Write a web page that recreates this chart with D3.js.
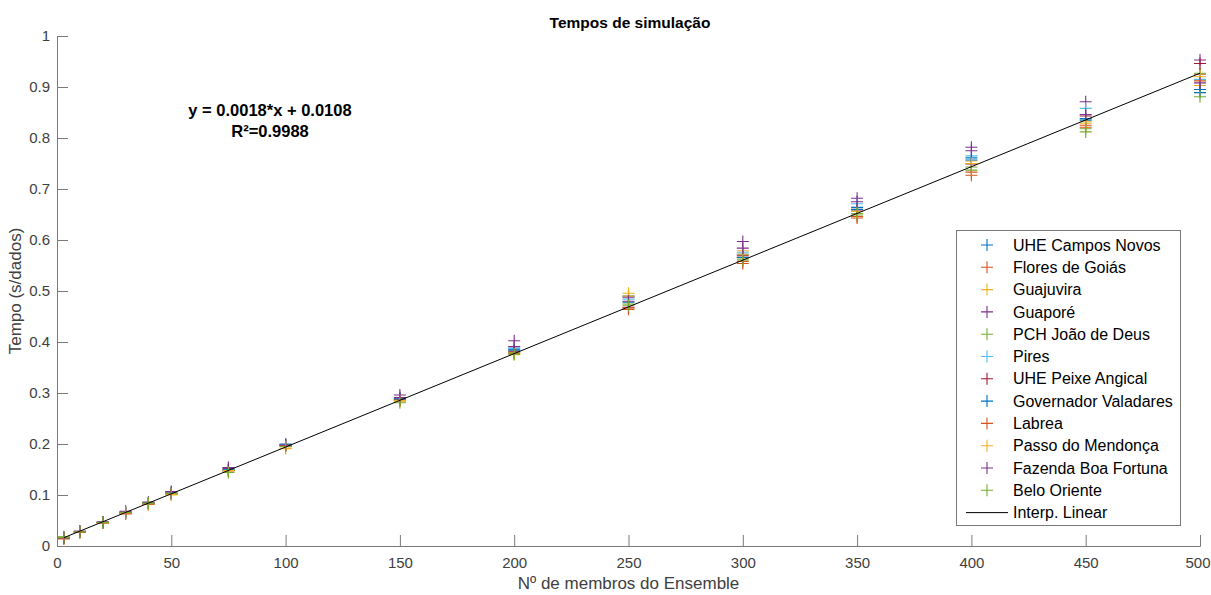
<!DOCTYPE html>
<html>
<head>
<meta charset="utf-8">
<script src="https://cdn.jsdelivr.net/npm/d3@7"></script>
<style>
  html, body { margin: 0; padding: 0; background: #fff; }
  svg { display: block; font-family: "Liberation Sans", Arial, Helvetica, sans-serif; }
</style>
</head>
<body>
<svg id="chart" width="1211" height="595"></svg>
<script>
const xVals = [3, 10, 20, 30, 40, 50, 75, 100, 150, 200, 250, 300, 350, 400, 450, 500];

const seriesNames = [
  "UHE Campos Novos", "Flores de Goiás", "Guajuvira", "Guaporé", "PCH João de Deus", "Pires",
  "UHE Peixe Angical", "Governador Valadares", "Labrea", "Passo do Mendonça", "Fazenda Boa Fortuna", "Belo Oriente"
];

const campos     = [0.016, 0.028, 0.046, 0.065, 0.084, 0.104, 0.150, 0.200, 0.289, 0.386, 0.490, 0.572, 0.664, 0.761, 0.835, 0.889];
const flores     = [0.014, 0.027, 0.045, 0.063, 0.082, 0.101, 0.147, 0.196, 0.285, 0.379, 0.464, 0.554, 0.643, 0.727, 0.821, 0.925];
const guajuvira  = [0.015, 0.027, 0.045, 0.064, 0.082, 0.100, 0.147, 0.191, 0.284, 0.378, 0.4955, 0.579, 0.660, 0.755, 0.829, 0.903];
const guapore    = [0.017, 0.029, 0.047, 0.068, 0.086, 0.107, 0.154, 0.199, 0.296, 0.4025, 0.488, 0.597, 0.682, 0.782, 0.871, 0.953];
const pchJoao    = [0.018, 0.028, 0.047, 0.066, 0.084, 0.104, 0.149, 0.196, 0.287, 0.380, 0.4745, 0.565, 0.649, 0.743, 0.812, 0.927];
const pires      = [0.016, 0.028, 0.046, 0.065, 0.083, 0.103, 0.149, 0.199, 0.290, 0.388, 0.484, 0.576, 0.671, 0.765, 0.858, 0.915];
const peixe      = [0.015, 0.027, 0.046, 0.064, 0.083, 0.102, 0.148, 0.197, 0.286, 0.382, 0.468, 0.569, 0.657, 0.749, 0.843, 0.946];
const governador = [0.016, 0.028, 0.046, 0.065, 0.083, 0.103, 0.149, 0.198, 0.288, 0.384, 0.478, 0.566, 0.660, 0.757, 0.838, 0.895];
const labrea     = [0.015, 0.027, 0.045, 0.064, 0.082, 0.102, 0.148, 0.197, 0.286, 0.377, 0.467, 0.558, 0.646, 0.733, 0.825, 0.912];
const passo      = [0.016, 0.028, 0.046, 0.065, 0.083, 0.101, 0.148, 0.192, 0.285, 0.375, 0.490, 0.572, 0.656, 0.750, 0.832, 0.920];
const fazenda    = [0.016, 0.029, 0.047, 0.067, 0.085, 0.106, 0.152, 0.198, 0.291, 0.391, 0.480, 0.584, 0.675, 0.775, 0.846, 0.908];
const belo       = [0.017, 0.028, 0.046, 0.066, 0.084, 0.103, 0.144, 0.195, 0.281, 0.376, 0.472, 0.561, 0.652, 0.737, 0.818, 0.881];

const seriesValues = [campos, flores, guajuvira, guapore, pchJoao, pires, peixe, governador, labrea, passo, fazenda, belo];

const seriesColors = ["#0072BD", "#D95319", "#EDB120", "#7E2F8E", "#77AC30", "#4DBEEE", "#A2142F",
                      "#0072BD", "#D95319", "#EDB120", "#7E2F8E", "#77AC30"];

const fitX = [3, 500];
const fitY = [0.0163, 0.927];
const fitName = "Interp. Linear";

const xTicks = [0, 50, 100, 150, 200, 250, 300, 350, 400, 450, 500];
const yTicks = [0, 0.1, 0.2, 0.3, 0.4, 0.5, 0.6, 0.7, 0.8, 0.9, 1];

const titleText = "Tempos de simulação";
const xLabel = "Nº de membros do Ensemble";
const yLabel = "Tempo (s/dados)";
const eqLines = ["y = 0.0018*x + 0.0108", "R²=0.9988"];

// ---------- drawing ----------
const svg = d3.select("#chart");
const L = 57, R = 1200, T = 36, B = 546;
const x = d3.scaleLinear().domain([0, 500]).range([L, R]);
const y = d3.scaleLinear().domain([0, 1]).range([B, T]);

const axisColor = "#7a7a7a";
const textColor = "#404040";

// x axis
const gx = svg.append("g").attr("transform", `translate(0,${B})`)
  .call(d3.axisBottom(x).tickValues(xTicks).tickFormat(d3.format("d")).tickSize(-11).tickPadding(8));
// y axis
const gy = svg.append("g").attr("transform", `translate(${L},0)`)
  .call(d3.axisLeft(y).tickValues(yTicks).tickFormat(d => d === 0 ? "0" : d === 1 ? "1" : d3.format(".1f")(d)).tickSize(-11).tickPadding(5));

[gx, gy].forEach(g => {
  g.select(".domain").attr("stroke", axisColor).attr("stroke-width", 1);
  g.selectAll(".tick line").attr("stroke", axisColor).attr("stroke-width", 1);
  g.selectAll(".tick text").attr("fill", textColor).attr("font-size", 15)
    .attr("font-family", "Liberation Sans, Arial, sans-serif");
});
gy.selectAll(".tick text").attr("dx", "-2");
gx.selectAll(".tick text").attr("dy", "0.71em").attr("y", 11);
// keep the last x tick label inside the picture
gx.selectAll(".tick text").filter(d => d === 500).attr("text-anchor", "end").attr("dx", 10);

// markers
const plusPath = s => `M${-s},0H${s}M0,${-s}V${s}`;
seriesValues.forEach((vals, i) => {
  svg.append("g").selectAll("path").data(vals).join("path")
    .attr("d", plusPath(6))
    .attr("transform", (d, j) => `translate(${x(xVals[j])},${y(d)})`)
    .attr("stroke", seriesColors[i]).attr("stroke-width", 1.1).attr("fill", "none");
});

// fit line
svg.append("path")
  .datum(fitX.map((v, i) => [v, fitY[i]]))
  .attr("d", d3.line().x(d => x(d[0])).y(d => y(d[1])))
  .attr("stroke", "#000").attr("stroke-width", 1).attr("fill", "none");

// title
svg.append("text").attr("x", 630).attr("y", 28).attr("text-anchor", "middle")
  .attr("font-size", 15.5).attr("font-weight", "bold").attr("fill", "#000").text(titleText);

// axis labels
svg.append("text").attr("x", (L + R) / 2).attr("y", 589).attr("text-anchor", "middle")
  .attr("font-size", 17).attr("fill", textColor).text(xLabel);
svg.append("text").attr("transform", `translate(21,${(T + B) / 2}) rotate(-90)`)
  .attr("text-anchor", "middle").attr("font-size", 17).attr("fill", textColor).text(yLabel);

// equation
eqLines.forEach((t, i) => {
  svg.append("text").attr("x", 270).attr("y", 116 + i * 21).attr("text-anchor", "middle")
    .attr("font-size", 16.5).attr("font-weight", "bold").attr("fill", "#000").text(t);
});

// legend
const lgX = 956, lgY = 230, lgW = 224, lgH = 295, rowH = 22.3, row0 = 245;
svg.append("rect").attr("x", lgX + 0.5).attr("y", lgY + 0.5).attr("width", lgW).attr("height", lgH)
  .attr("fill", "#fff").attr("stroke", axisColor).attr("stroke-width", 1);
const lg = svg.append("g");
seriesNames.forEach((name, i) => {
  const cy = row0 + i * rowH;
  lg.append("path").attr("d", plusPath(6)).attr("transform", `translate(987,${cy})`)
    .attr("stroke", seriesColors[i]).attr("stroke-width", 1.1).attr("fill", "none");
  lg.append("text").attr("x", 1013).attr("y", cy).attr("dy", "0.35em")
    .attr("font-size", 16).attr("fill", "#000").text(name);
});
{
  const cy = row0 + seriesNames.length * rowH;
  lg.append("line").attr("x1", 966).attr("x2", 1008).attr("y1", cy).attr("y2", cy)
    .attr("stroke", "#000").attr("stroke-width", 1);
  lg.append("text").attr("x", 1013).attr("y", cy).attr("dy", "0.35em")
    .attr("font-size", 16).attr("fill", "#000").text(fitName);
}
</script>
</body>
</html>
